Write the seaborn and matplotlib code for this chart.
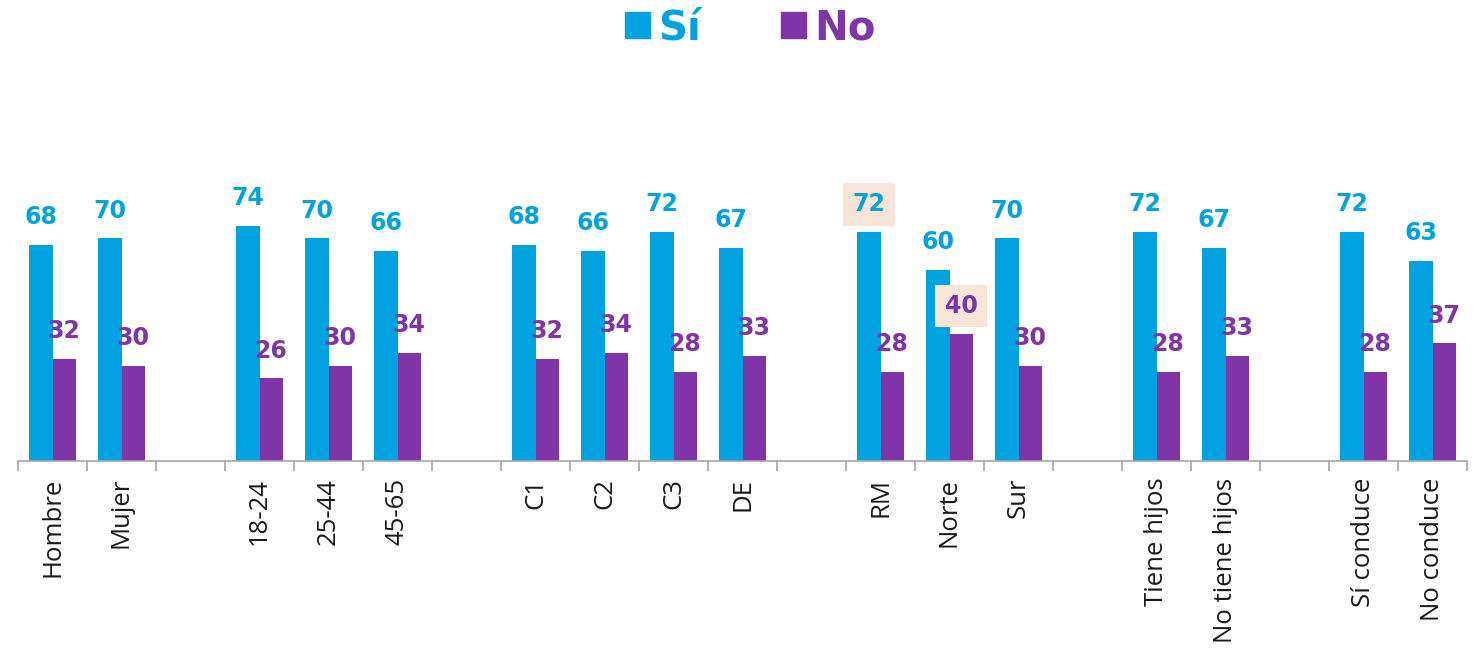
import pandas as pd
import matplotlib.pyplot as plt
import seaborn as sns
from matplotlib.ticker import FixedLocator

# categories (blank slots separate the groups)
categories = ["Hombre", "Mujer", " ",
              "18-24", "25-44", "45-65", "  ",
              "C1", "C2", "C3", "DE", "   ",
              "RM", "Norte", "Sur", "    ",
              "Tiene hijos", "No tiene hijos", "     ",
              "Sí conduce", "No conduce"]
real_cats = ["Hombre", "Mujer", "18-24", "25-44", "45-65", "C1", "C2", "C3", "DE",
             "RM", "Norte", "Sur", "Tiene hijos", "No tiene hijos", "Sí conduce", "No conduce"]
si_vals = [68, 70, 74, 70, 66, 68, 66, 72, 67, 72, 60, 70, 72, 67, 72, 63]
no_vals = [32, 30, 26, 30, 34, 32, 34, 28, 33, 28, 40, 30, 28, 33, 28, 37]
series = ["Sí", "No"]
highlights = [("RM", "Sí"), ("Norte", "No")]

blue = "#00A3E0"
purple = "#7F35A8"
hl_color = "#F9E4D8"

df = pd.DataFrame({
    "cat": real_cats * 2,
    "resp": ["Sí"] * len(real_cats) + ["No"] * len(real_cats),
    "val": si_vals + no_vals,
})

sns.set_style("white")
plt.rcParams["font.family"] = ["Open Sans", "DejaVu Sans"]

fig = plt.figure(figsize=(14.83, 6.6), dpi=100)
ax = fig.add_axes([18 / 1483, 199 / 660, 1449 / 1483, 381.6 / 660])

sns.barplot(data=df, x="cat", y="val", hue="resp", order=categories, hue_order=series,
            palette=[blue, purple], saturation=1, width=0.67, gap=0, linewidth=0,
            ax=ax, legend=False)

ax.set_xlim(-0.5, len(categories) - 0.5)
ax.set_ylim(0, 120)
ax.set_xlabel("")
ax.set_ylabel("")
ax.set_yticks([])
for s in ["top", "right", "left"]:
    ax.spines[s].set_visible(False)
ax.spines["bottom"].set_color("#A6A6A6")
ax.spines["bottom"].set_linewidth(1.2)

ax.set_xticks(range(len(categories)))
ax.set_xticklabels(categories, rotation=90, fontsize=18.5, va="top", ha="center",
                   color="#1A1A1A")
ax.tick_params(axis="x", which="major", length=0, pad=12)
ax.xaxis.set_minor_locator(FixedLocator([i - 0.5 for i in range(len(categories) + 1)]))
ax.tick_params(axis="x", which="minor", bottom=True, direction="out", length=7,
               width=1.2, color="#A6A6A6")

# value labels
for container, name, col in zip(ax.containers, series, [blue, purple]):
    for bar in container:
        h = bar.get_height()
        if pd.isna(h) or h == 0:
            continue
        cx = bar.get_x() + bar.get_width() / 2
        cat = categories[int(round(cx))]
        kw = {}
        if (cat, name) in highlights:
            kw["bbox"] = dict(boxstyle="square,pad=0.4", facecolor=hl_color, edgecolor="none")
        ax.annotate(f"{int(h)}", (cx, h), xytext=(0, 20), textcoords="offset points",
                    ha="center", va="center", fontsize=17, fontweight="bold", color=col,
                    family="DejaVu Sans", **kw)

# legend
handles = [plt.Rectangle((0, 0), 1, 1, color=blue), plt.Rectangle((0, 0), 1, 1, color=purple)]
leg = fig.legend(handles, series, loc="center", bbox_to_anchor=(0.506, 0.957), ncol=2,
                 frameon=False, handlelength=0.62, handleheight=0.62,
                 handletextpad=0.2, columnspacing=2.0,
                 prop={"weight": "bold", "size": 29, "family": "DejaVu Sans"})
for t, c in zip(leg.get_texts(), [blue, purple]):
    t.set_color(c)

fig.savefig("out.png", dpi=100)
